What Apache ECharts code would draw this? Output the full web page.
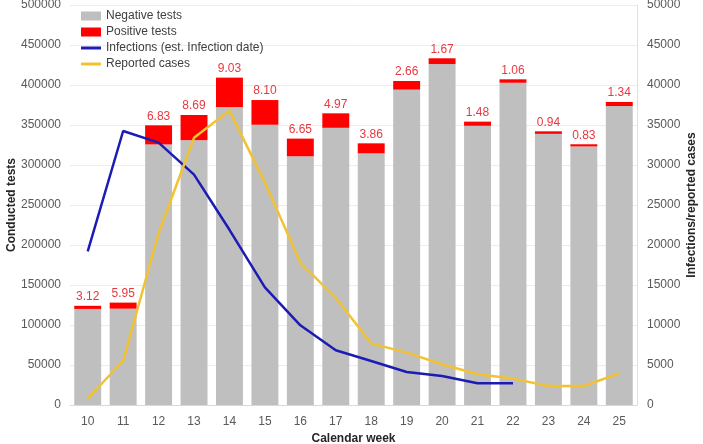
<!DOCTYPE html>
<html>
<head>
<meta charset="utf-8">
<script src="https://cdn.jsdelivr.net/npm/echarts@6/dist/echarts.min.js"></script>
<style>html,body{margin:0;padding:0;background:#fff}#c{width:703px;height:444px}</style>
</head>
<body>
<div id="c"></div>
<script>
const weeks = ['10','11','12','13','14','15','16','17','18','19','20','21','22','23','24','25'];
const negativeTests = [120100,120400,325700,331000,372300,350300,310900,346500,314500,394200,426200,349000,402800,338900,323200,373700];
const positiveTests = [3900,7600,23900,31500,36900,30900,22100,18100,12600,10800,7200,5200,4300,3200,2700,5100];
const positiveRate = ['3.12','5.95','6.83','8.69','9.03','8.10','6.65','4.97','3.86','2.66','1.67','1.48','1.06','0.94','0.83','1.34'];
const infections = [19200,34250,32800,28800,21900,14700,9960,6840,5500,4130,3630,2710,2710,null,null,null];
const reportedCases = [840,5500,21500,33400,36800,27800,17800,13400,7700,6550,5090,3840,3300,2380,2380,3960];

const chart = echarts.init(document.getElementById('c'), null, {renderer:'canvas'});
const ff = 'Liberation Sans, Arial, sans-serif';
const nameStyle = {color:'#262626', fontSize:12, fontWeight:'bold', fontFamily:ff};
chart.setOption({
  animation:false,
  textStyle:{fontFamily:ff},
  grid:{left:70, right:66, top:5, bottom:39, outerBoundsMode:'none', containLabel:false},
  legend:{
    left:76, top:5, orient:'vertical', itemGap:4, itemWidth:20, itemHeight:9,
    textStyle:{color:'#404040', fontSize:12},
    data:[
      {name:'Negative tests', icon:'rect'},
      {name:'Positive tests', icon:'rect'},
      {name:'Infections (est. Infection date)', icon:'path://M0,0 L20,0 L20,3 L0,3 Z'},
      {name:'Reported cases', icon:'path://M0,0 L20,0 L20,3 L0,3 Z'}
    ]
  },
  xAxis:{
    type:'category', data:weeks,
    name:'Calendar week', nameLocation:'middle', nameGap:28, nameMoveOverlap:false, nameTextStyle:nameStyle,
    axisLine:{lineStyle:{color:'#d9d9d9'}}, axisTick:{show:false},
    axisLabel:{color:'#595959', fontSize:12, fontFamily:ff, margin:11}
  },
  yAxis:[
    {type:'value', min:0, max:500000, interval:50000,
     name:'Conducted tests', nameLocation:'middle', nameGap:52, nameMoveOverlap:false, nameRotate:90, nameTextStyle:nameStyle,
     axisLabel:{color:'#595959', fontSize:12, fontFamily:ff, margin:9, formatter:v=>String(v)},
     axisLine:{show:false}, axisTick:{show:false},
     splitLine:{lineStyle:{color:'#ececec'}}},
    {type:'value', min:0, max:50000, interval:5000, position:'right',
     name:'Infections/reported cases', nameLocation:'middle', nameGap:49, nameMoveOverlap:false, nameRotate:90, nameTextStyle:nameStyle,
     axisLabel:{color:'#595959', fontSize:12, fontFamily:ff, margin:10, formatter:v=>String(v)},
     axisLine:{show:true, lineStyle:{color:'#e0e0e0'}}, axisTick:{show:false},
     splitLine:{show:false}}
  ],
  series:[
    {name:'Negative tests', type:'bar', stack:'t', data:negativeTests, barWidth:'76%',
     itemStyle:{color:'#bfbfbf'}},
    {name:'Positive tests', type:'bar', stack:'t', data:positiveTests, barWidth:'76%',
     itemStyle:{color:'#ff0000'},
     label:{show:true, position:'top', distance:3, color:'#e8393f', fontSize:12,
       formatter:p=>positiveRate[p.dataIndex]}},
    {name:'Infections (est. Infection date)', type:'line', yAxisIndex:1, data:infections,
     symbol:'none', lineStyle:{color:'#1c1cb4', width:2.5}, itemStyle:{color:'#1c1cb4'}},
    {name:'Reported cases', type:'line', yAxisIndex:1, data:reportedCases,
     symbol:'none', lineStyle:{color:'#f1c232', width:2.5}, itemStyle:{color:'#f1c232'}}
  ]
});
</script>
</body>
</html>
